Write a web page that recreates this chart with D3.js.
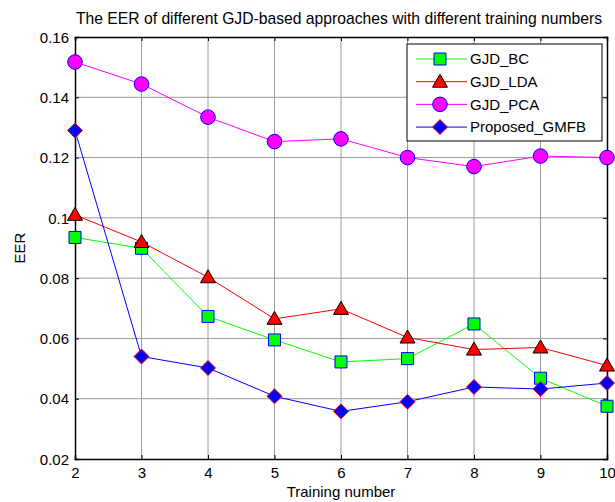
<!DOCTYPE html>
<html>
<head>
<meta charset="utf-8">
<script src="https://cdn.jsdelivr.net/npm/d3@7"></script>
<style>
  body { margin: 0; background: #fff; }
  text { font-family: "Liberation Sans", Arial, sans-serif; fill: #000; }
</style>
</head>
<body>
<div id="chart"></div>
<script>
// data
var trainingNumbers = [2, 3, 4, 5, 6, 7, 8, 9, 10];
var gjdBC   = [0.0935, 0.0899, 0.0673, 0.0595, 0.0522, 0.0533, 0.0648, 0.0468, 0.0375];
var gjdLDA  = [0.1010, 0.0920, 0.0803, 0.0665, 0.0698, 0.0603, 0.0563, 0.0570, 0.0510];
var gjdPCA  = [0.1517, 0.1444, 0.1334, 0.1253, 0.1262, 0.1200, 0.1170, 0.1205, 0.1200];
var gmfb    = [0.1290, 0.0540, 0.0502, 0.0408, 0.0358, 0.0390, 0.0439, 0.0432, 0.0452];
var yTicks  = [0.02, 0.04, 0.06, 0.08, 0.1, 0.12, 0.14, 0.16];
var yTickLabels = ["0.02", "0.04", "0.06", "0.08", "0.1", "0.12", "0.14", "0.16"];
var seriesNames = ["GJD_BC", "GJD_LDA", "GJD_PCA", "Proposed_GMFB"];

var width = 615, height = 502;
var margin = {top: 37, right: 8, bottom: 43, left: 75};
var w = width - margin.left - margin.right,
    h = height - margin.top - margin.bottom;

var series = [
  {name: seriesNames[0], values: gjdBC,  line: "#00ff00", fill: "#00ff00", edge: "#0000ff", shape: "square"},
  {name: seriesNames[1], values: gjdLDA, line: "#ff0000", fill: "#ff0000", edge: "#000000", shape: "triangle"},
  {name: seriesNames[2], values: gjdPCA, line: "#ff00ff", fill: "#ff00ff", edge: "#0000ff", shape: "circle"},
  {name: seriesNames[3], values: gmfb,   line: "#0000ff", fill: "#0000ff", edge: "#ff0000", shape: "diamond"}
];

var x = d3.scaleLinear().domain([2, 10]).range([0, w]);
var y = d3.scaleLinear().domain([0.02, 0.16]).range([h, 0]);

function markerPath(shape) {
  if (shape === "square") return "M-6,-6H6V6H-6Z";
  if (shape === "triangle") return "M0,-7.5L7.5,5.5H-7.5Z";
  if (shape === "diamond") return "M0,-7.5L7.5,0L0,7.5L-7.5,0Z";
  return d3.symbol(d3.symbolCircle, Math.PI * 7.3 * 7.3)();
}

var svg = d3.select("#chart").append("svg")
    .attr("width", width)
    .attr("height", height);

var g = svg.append("g")
    .attr("transform", "translate(" + margin.left + "," + margin.top + ")");

// grid
g.append("g").selectAll("line")
    .data(trainingNumbers.slice(1, -1))
  .enter().append("line")
    .attr("x1", function(d) { return x(d); })
    .attr("x2", function(d) { return x(d); })
    .attr("y1", 0).attr("y2", h)
    .attr("stroke", "#9a9a9a").attr("stroke-width", 1);

g.append("g").selectAll("line")
    .data(yTicks.slice(1, -1))
  .enter().append("line")
    .attr("y1", function(d) { return y(d); })
    .attr("y2", function(d) { return y(d); })
    .attr("x1", 0).attr("x2", w)
    .attr("stroke", "#9a9a9a").attr("stroke-width", 1);

// axes, ticks pointing inward like matlab
var xAxis = d3.axisBottom(x).tickValues(trainingNumbers).tickSize(-4).tickPadding(8)
    .tickFormat(d3.format("d"));
var yAxis = d3.axisLeft(y).tickValues(yTicks).tickSize(-4).tickPadding(6)
    .tickFormat(function(d, i) { return yTickLabels[i]; });

var gx = g.append("g").attr("transform", "translate(0," + h + ")").call(xAxis);
var gy = g.append("g").call(yAxis);
g.append("g").call(d3.axisTop(x).tickValues(trainingNumbers).tickSize(-4).tickFormat(""));
g.append("g").attr("transform", "translate(" + w + ",0)")
    .call(d3.axisRight(y).tickValues(yTicks).tickSize(-4).tickFormat(""));

g.selectAll(".domain").attr("stroke", "#000").attr("stroke-width", 1.5);
g.selectAll(".tick line").attr("stroke", "#000");
gx.selectAll("text").style("font-size", "15px");
gy.selectAll("text").style("font-size", "15px").attr("dy", "0.35em");

// series
var line = d3.line()
    .x(function(d, i) { return x(trainingNumbers[i]); })
    .y(function(d) { return y(d); });

series.forEach(function(s) {
  var sg = g.append("g");
  sg.append("path")
      .attr("d", line(s.values))
      .attr("fill", "none")
      .attr("stroke", s.line)
      .attr("stroke-width", 1);
  sg.selectAll("path.m")
      .data(s.values)
    .enter().append("path")
      .attr("class", "m")
      .attr("transform", function(d, i) { return "translate(" + x(trainingNumbers[i]) + "," + y(d) + ")"; })
      .attr("d", markerPath(s.shape))
      .attr("fill", s.fill)
      .attr("stroke", s.edge)
      .attr("stroke-width", 1);
});

// legend
var legend = svg.append("g").attr("transform", "translate(407,44)");
legend.append("rect")
    .attr("width", 195).attr("height", 97)
    .attr("fill", "#fff").attr("stroke", "#000").attr("stroke-width", 1);
var item = legend.selectAll("g.item")
    .data(series)
  .enter().append("g")
    .attr("class", "item")
    .attr("transform", function(d, i) { return "translate(0," + (15 + i * 22.7) + ")"; });
item.append("line")
    .attr("x1", 9).attr("x2", 60)
    .attr("stroke", function(d) { return d.line; });
item.append("path")
    .attr("transform", "translate(33,0)")
    .attr("d", function(d) { return markerPath(d.shape); })
    .attr("fill", function(d) { return d.fill; })
    .attr("stroke", function(d) { return d.edge; });
item.append("text")
    .attr("x", 63).attr("dy", "0.35em")
    .style("font-size", "15px")
    .text(function(d) { return d.name; });

// titles
svg.append("text")
    .attr("x", 339).attr("y", 24)
    .attr("text-anchor", "middle")
    .style("font-size", "15.7px")
    .text("The EER of different GJD-based approaches with different training numbers");

svg.append("text")
    .attr("x", margin.left + w / 2).attr("y", 497)
    .attr("text-anchor", "middle")
    .style("font-size", "15px")
    .text("Training number");

svg.append("text")
    .attr("transform", "translate(25," + (margin.top + h / 2) + ") rotate(-90)")
    .attr("text-anchor", "middle")
    .style("font-size", "15px")
    .text("EER");
</script>
</body>
</html>
